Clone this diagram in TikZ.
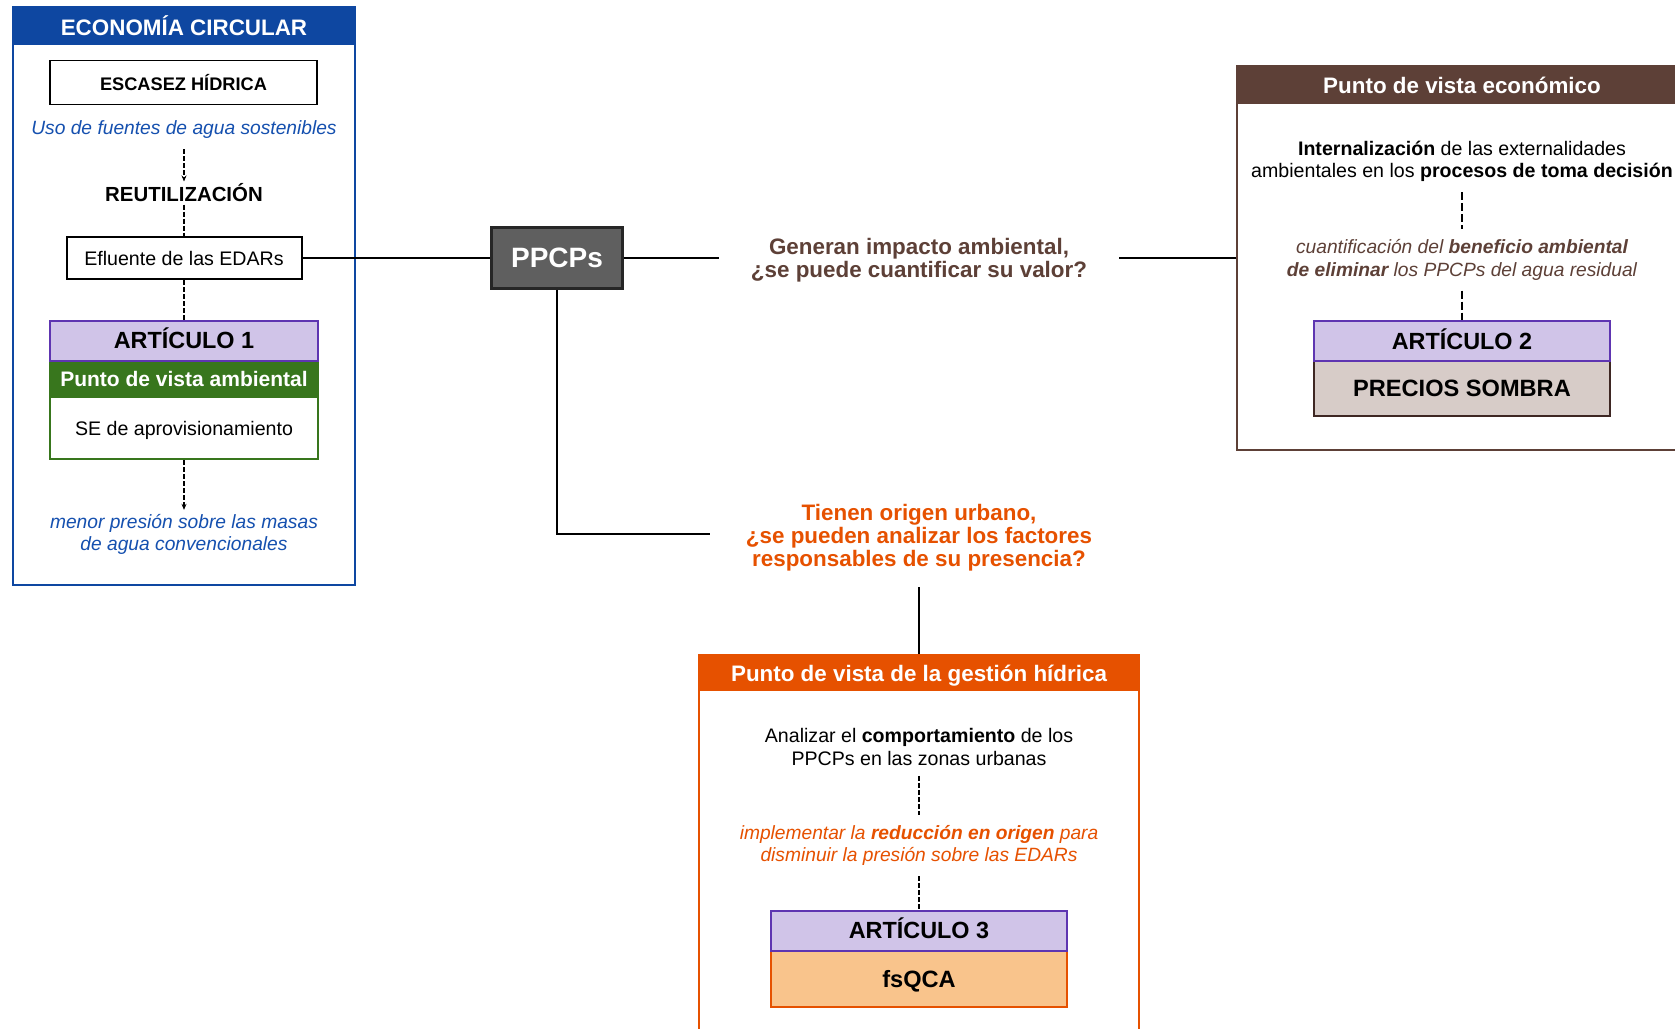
\documentclass[tikz,border=0pt]{standalone}
\usepackage{fontspec}
\setmainfont{Liberation Sans}
\usetikzlibrary{arrows.meta}

\definecolor{ecblue}{RGB}{14,71,161}
\definecolor{txblue}{RGB}{21,80,175}
\definecolor{amgreen}{RGB}{56,118,29}
\definecolor{artlila}{RGB}{208,196,232}
\definecolor{artpurple}{RGB}{94,53,177}
\definecolor{ecobrown}{RGB}{93,64,55}
\definecolor{sombrafill}{RGB}{215,204,200}
\definecolor{darkbrown}{RGB}{62,39,35}
\definecolor{gesorange}{RGB}{230,81,0}
\definecolor{qcafill}{RGB}{249,196,140}
\definecolor{ppcpgray}{RGB}{95,95,95}

\tikzset{
  boxframe/.style={draw, line width=1pt, fill=white},
  head/.style={fill, text=white, inner sep=0pt, text depth=0pt, font=\fontsize{11.2}{12}\selectfont\bfseries},
  art/.style={draw=artpurple, fill=artlila, line width=1pt, minimum height=20pt, inner sep=0pt, text height=8.4pt, text depth=0pt, font=\fontsize{11.7}{13}\selectfont\bfseries},
  result/.style={line width=1pt, inner sep=0pt, text depth=0pt, font=\fontsize{11.8}{13}\selectfont\bfseries},
  txt/.style={align=center, inner sep=5pt, font=\fontsize{9.8}{11.2}\selectfont},
  itxt/.style={align=center, inner sep=5pt, font=\fontsize{9.6}{11.2}\selectfont\itshape},
  quest/.style={align=center, font=\fontsize{11.2}{11.6}\selectfont\bfseries},
  thindash/.style={dash pattern=on 2.5pt off 1pt, line width=.8pt},
  thickdash/.style={dash pattern=on 4pt off 1.5pt, line width=1.1pt}
}

\begin{document}
\begin{tikzpicture}[x=.5pt,y=-.5pt]
  \useasboundingbox (0,0) rectangle (1675,1028);
  \clip (0,0) rectangle (1675,1028);

  \node[boxframe, draw=ecblue, minimum width=171pt, minimum height=289pt] at (184,296) (ec) {};
  \node[head, fill=ecblue, minimum width=171pt, minimum height=19pt] at (184,26) (echead) {ECONOMÍA CIRCULAR};
  \node[draw, line width=.8pt, minimum width=133.5pt, minimum height=22pt, font=\fontsize{9.1}{10}\selectfont\bfseries] at (183.5,82.5) (escasez) {ESCASEZ HÍDRICA};
  \node[itxt, text=txblue] at (184,130) (uso) {Uso de fuentes de agua sostenibles};
  \node[txt, inner ysep=1pt, font=\fontsize{10.2}{12}\selectfont\bfseries] at (184,193) (reuse) {REUTILIZACIÓN};
  \node[draw, line width=1pt, minimum width=117.5pt, minimum height=21pt, inner sep=0pt, font=\fontsize{9.8}{11.2}\selectfont] at (184,258) (eflu) {Efluente de las EDARs};
  \node[draw=amgreen, line width=1pt, minimum width=134pt, minimum height=31pt, txt, text depth=0pt] at (184,428) (se) {SE de aprovisionamiento};
  \node[head, fill=amgreen, draw=amgreen, line width=1pt, minimum width=134pt, minimum height=18.5pt, font=\fontsize{10.5}{12}\selectfont\bfseries] at (184,378.5) (amb) {Punto de vista ambiental};
  \node[art, minimum width=134pt] at (184,340.5) (art1) {ARTÍCULO 1};
  \node[itxt, text=txblue, inner ysep=2pt] at (184,534.5) (menor) {menor presión sobre las masas\\de agua convencionales};

  \node[draw=black!85, fill=ppcpgray, line width=1.2pt, minimum width=65.5pt, minimum height=30.5pt, text=white, font=\fontsize{14}{16}\selectfont\bfseries] at (557,258) (ppcp) {PPCPs};
  \node[quest, text=ecobrown, inner xsep=16pt] at (919,260.5) (q1) {Generan impacto ambiental,\\¿se puede cuantificar su valor?};
  \node[quest, text=gesorange, inner xsep=18pt, inner ysep=7.5pt] at (919,538) (q2) {Tienen origen urbano,\\¿se pueden analizar los factores\\responsables de su presencia?};

  \node[boxframe, draw=ecobrown, minimum width=225pt, minimum height=192pt] at (1462,258) (eco) {};
  \node[head, fill=ecobrown, minimum width=225pt, minimum height=19pt] at (1462,85) (ecohead) {Punto de vista económico};
  \node[txt] at (1462,161.5) (intern) {\textbf{Internalización} de las externalidades\\ambientales en los \textbf{procesos de toma decisión}};
  \node[itxt, text=ecobrown] at (1462,260) (cuant) {cuantificación del \textbf{beneficio ambiental}\\\textbf{de eliminar} los PPCPs del agua residual};
  \node[result, draw=darkbrown, fill=sombrafill, minimum width=148pt, minimum height=27.5pt] at (1462,388.5) (sombra) {PRECIOS SOMBRA};
  \node[art, minimum width=148pt] at (1462,341) (art2) {ARTÍCULO 2};

  \node[boxframe, draw=gesorange, minimum width=220pt, minimum height=210pt] at (919,865) (ges) {};
  \node[head, fill=gesorange, minimum width=220pt, minimum height=18pt] at (919,673) (geshead) {Punto de vista de la gestión hídrica};
  \node[txt] at (919,747) (analiz) {Analizar el \textbf{comportamiento} de los\\PPCPs en las zonas urbanas};
  \node[itxt, text=gesorange] at (919,845.5) (implem) {implementar la \textbf{reducción en origen} para\\disminuir la presión sobre las EDARs};
  \node[result, draw=gesorange, fill=qcafill, minimum width=148pt, minimum height=28.5pt] at (919,978.5) (qca) {fsQCA};
  \node[art, minimum width=148pt] at (919,930.5) (art3) {ARTÍCULO 3};

  \draw[line width=1.2pt] (eflu) -- (ppcp);
  \draw[line width=1.2pt] (ppcp) -- (ppcp -| q1.west);
  \draw[line width=1.2pt] (q1.east |- eco) -- (eco);
  \draw[line width=1.2pt] (ppcp.south) |- ([yshift=2pt]q2.west);
  \draw[line width=1.2pt] (q2.south) -- (ges.north);
  \foreach \x/\y in {reuse/eflu,eflu/art1,analiz/implem,implem/art3} \draw[thindash] (\x) -- (\y);
  \foreach \x/\y in {uso/reuse,se/menor} \draw[thindash,-{Stealth[length=3pt,width=2.5pt]}] (\x) -- (\y);
  \foreach \x/\y in {intern/cuant,cuant/art2} \draw[thickdash] (\x) -- (\y);
\end{tikzpicture}
\end{document}
